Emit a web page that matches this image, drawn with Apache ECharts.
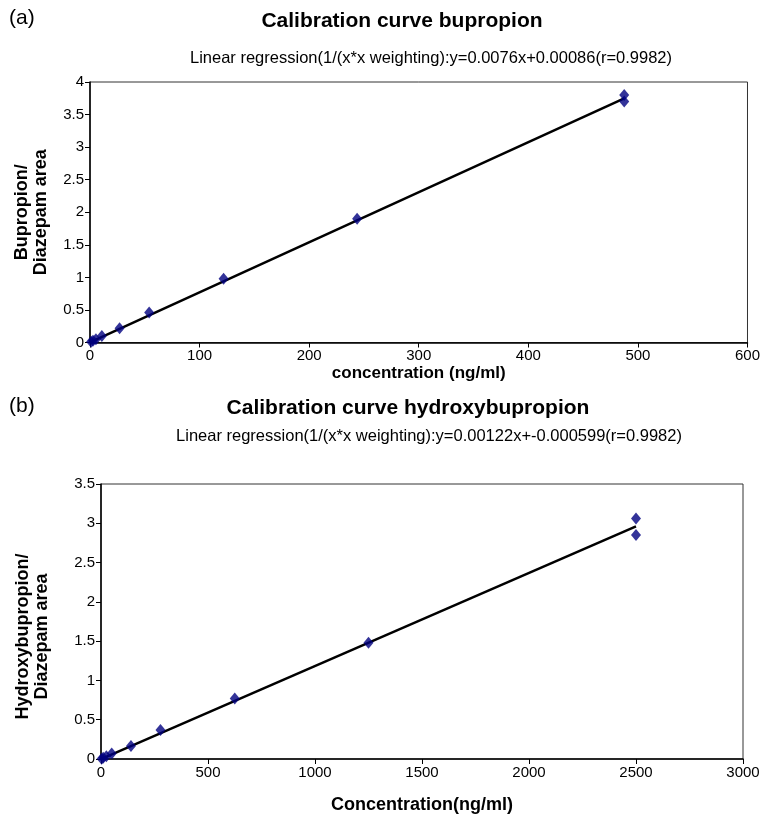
<!DOCTYPE html>
<html>
<head>
<meta charset="utf-8">
<script src="https://cdn.jsdelivr.net/npm/echarts@6/dist/echarts.min.js"></script>
<style>
html,body{margin:0;padding:0;background:#fff;}
#c{width:763px;height:815px;}
</style>
</head>
<body>
<div id="c"></div>
<script>
// ---- data (a) bupropion ----
const bupConc = [487.5, 487.5, 243.75, 121.9, 54, 27, 10.8, 5.4, 2.7, 1];
const bupRatio = [3.80, 3.70, 1.90, 0.98, 0.46, 0.22, 0.10, 0.05, 0.025, 0.01];
const bupFitX = [0, 487.5];
const bupFitY = [0.00086, 3.75];
const bupXTicks = [0, 100, 200, 300, 400, 500, 600];
const bupYTicks = [0, 0.5, 1, 1.5, 2, 2.5, 3, 3.5, 4];

// ---- data (b) hydroxybupropion ----
const hyConc = [2500, 2500, 1250, 625, 278, 140, 50, 25, 10, 3];
const hyRatio = [3.06, 2.85, 1.48, 0.77, 0.37, 0.165, 0.07, 0.035, 0.015, 0.004];
const hyFitX = [0, 2500];
const hyFitY = [-0.000599, 2.96];
const hyXTicks = [0, 500, 1000, 1500, 2000, 2500, 3000];
const hyYTicks = [0, 0.5, 1, 1.5, 2, 2.5, 3, 3.5];

const FONT = '"Liberation Sans", Arial, sans-serif';
const pairs = (xs, ys) => xs.map((x, i) => [x, ys[i]]);
const plain = v => String(v);

function xAxisCfg(idx, ticks, name, gap, nameSize) {
  return {
    type: 'value', gridIndex: idx,
    min: ticks[0], max: ticks[ticks.length - 1], interval: ticks[1] - ticks[0],
    name: name, nameLocation: 'middle', nameGap: gap,
    nameTextStyle: {fontFamily: FONT, fontSize: nameSize, fontWeight: 'bold', color: '#000'},
    axisLine: {show: true, lineStyle: {color: '#000', width: 1.5}},
    axisTick: {show: true, inside: false, length: 5, lineStyle: {color: '#000', width: 1}},
    axisLabel: {fontFamily: FONT, fontSize: 15, color: '#000', margin: 6, formatter: plain},
    splitLine: {show: false}
  };
}
function yAxisCfg(idx, ticks, name, gap, pad) {
  return {
    type: 'value', gridIndex: idx,
    min: ticks[0], max: ticks[ticks.length - 1], interval: ticks[1] - ticks[0],
    name: name, nameLocation: 'middle', nameGap: gap, nameRotate: 90,
    nameTextStyle: {fontFamily: FONT, fontSize: 18, fontWeight: 'bold', color: '#000', lineHeight: 19, padding: pad},
    axisLine: {show: true, lineStyle: {color: '#000', width: 1.5}},
    axisTick: {show: true, inside: false, length: 5, lineStyle: {color: '#000', width: 1}},
    axisLabel: {fontFamily: FONT, fontSize: 15, color: '#000', margin: 6, formatter: plain},
    splitLine: {show: false}
  };
}

const chart = echarts.init(document.getElementById('c'), null, {renderer: 'canvas'});
chart.setOption({
  animation: false,
  backgroundColor: '#fff',
  grid: [
    {left: 90, top: 82, width: 660, height: 260.5, show: true, borderColor: '#333', borderWidth: 1, backgroundColor: 'transparent'},
    {left: 101, top: 484, width: 642, height: 279, show: true, borderColor: '#333', borderWidth: 1, backgroundColor: 'transparent'}
  ],
  xAxis: [
    xAxisCfg(0, bupXTicks, 'concentration (ng/ml)', 11, 17),
    xAxisCfg(1, hyXTicks, 'Concentration(ng/ml)', 37, 18)
  ],
  yAxis: [
    yAxisCfg(0, bupYTicks, 'Bupropion/\nDiazepam area', 39, 0),
    yAxisCfg(1, hyYTicks, 'Hydroxybupropion/\nDiazepam area', 49, [0, 30, 0, 0])
  ],
  graphic: [
    {type: 'text', left: 9, top: 8, style: {text: '(a)', font: '21px ' + FONT, fill: '#000'}},
    {type: 'text', x: 402, y: 21, style: {text: 'Calibration curve bupropion', font: 'bold 21px ' + FONT, fill: '#000', textAlign: 'center', textVerticalAlign: 'middle'}},
    {type: 'text', x: 431, y: 58, style: {text: 'Linear regression(1/(x*x weighting):y=0.0076x+0.00086(r=0.9982)', font: '16.5px ' + FONT, fill: '#000', textAlign: 'center', textVerticalAlign: 'middle'}},
    {type: 'text', left: 9, top: 396, style: {text: '(b)', font: '21px ' + FONT, fill: '#000'}},
    {type: 'text', x: 408, y: 408, style: {text: 'Calibration curve hydroxybupropion', font: 'bold 21px ' + FONT, fill: '#000', textAlign: 'center', textVerticalAlign: 'middle'}},
    {type: 'text', x: 429, y: 436, style: {text: 'Linear regression(1/(x*x weighting):y=0.00122x+-0.000599(r=0.9982)', font: '16.5px ' + FONT, fill: '#000', textAlign: 'center', textVerticalAlign: 'middle'}}
  ],
  series: [
    {type: 'line', xAxisIndex: 0, yAxisIndex: 0, data: pairs(bupFitX, bupFitY), showSymbol: false, symbol: 'none',
     lineStyle: {color: '#000', width: 2.5}, z: 2},
    {type: 'scatter', xAxisIndex: 0, yAxisIndex: 0, data: pairs(bupConc, bupRatio), symbol: 'diamond', symbolSize: [10, 12],
     itemStyle: {color: '#000080'}, z: 3},
    {type: 'line', xAxisIndex: 1, yAxisIndex: 1, data: pairs(hyFitX, hyFitY), showSymbol: false, symbol: 'none',
     lineStyle: {color: '#000', width: 2.5}, z: 2},
    {type: 'scatter', xAxisIndex: 1, yAxisIndex: 1, data: pairs(hyConc, hyRatio), symbol: 'diamond', symbolSize: [10, 12],
     itemStyle: {color: '#000080'}, z: 3}
  ]
});
</script>
</body>
</html>
